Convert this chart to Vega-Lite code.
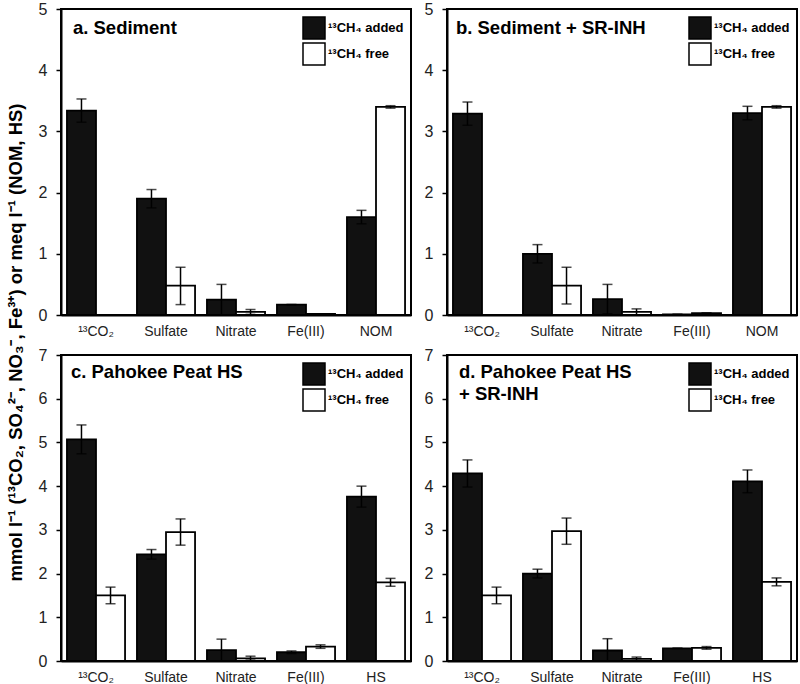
{
  "$schema": "https://vega.github.io/schema/vega-lite/v6.json",
  "padding": {"left": 6, "top": 0, "right": 3, "bottom": 2},
  "background": "white",
  "title": {"text": "mmol l⁻¹ (¹³CO₂, SO₄²⁻, NO₃⁻, Fe³⁺) or meq l⁻¹ (NOM, HS)", "orient": "left", "anchor": "middle", "fontSize": 18.5, "fontWeight": "bold", "font": "Liberation Sans", "color": "black", "offset": 12},
  "datasets": {
    "bars": [
      {"panel": "a", "cat": "¹³CO₂", "series": "¹³CH₄ added", "value": 3.34, "lo": 3.15, "hi": 3.53},
      {"panel": "a", "cat": "Sulfate", "series": "¹³CH₄ added", "value": 1.90, "lo": 1.75, "hi": 2.05},
      {"panel": "a", "cat": "Nitrate", "series": "¹³CH₄ added", "value": 0.25, "lo": 0.0, "hi": 0.50},
      {"panel": "a", "cat": "Fe(III)", "series": "¹³CH₄ added", "value": 0.17, "lo": 0.17, "hi": 0.17},
      {"panel": "a", "cat": "NOM", "series": "¹³CH₄ added", "value": 1.60, "lo": 1.49, "hi": 1.71},
      {"panel": "a", "cat": "¹³CO₂", "series": "¹³CH₄ free", "value": 0.0, "lo": 0.0, "hi": 0.0},
      {"panel": "a", "cat": "Sulfate", "series": "¹³CH₄ free", "value": 0.48, "lo": 0.17, "hi": 0.78},
      {"panel": "a", "cat": "Nitrate", "series": "¹³CH₄ free", "value": 0.05, "lo": 0.01, "hi": 0.09},
      {"panel": "a", "cat": "Fe(III)", "series": "¹³CH₄ free", "value": 0.02, "lo": 0.02, "hi": 0.02},
      {"panel": "a", "cat": "NOM", "series": "¹³CH₄ free", "value": 3.40, "lo": 3.38, "hi": 3.42},
      {"panel": "b", "cat": "¹³CO₂", "series": "¹³CH₄ added", "value": 3.29, "lo": 3.10, "hi": 3.48},
      {"panel": "b", "cat": "Sulfate", "series": "¹³CH₄ added", "value": 1.00, "lo": 0.85, "hi": 1.15},
      {"panel": "b", "cat": "Nitrate", "series": "¹³CH₄ added", "value": 0.26, "lo": 0.02, "hi": 0.50},
      {"panel": "b", "cat": "Fe(III)", "series": "¹³CH₄ added", "value": 0.01, "lo": 0.01, "hi": 0.01},
      {"panel": "b", "cat": "NOM", "series": "¹³CH₄ added", "value": 3.30, "lo": 3.19, "hi": 3.41},
      {"panel": "b", "cat": "¹³CO₂", "series": "¹³CH₄ free", "value": 0.0, "lo": 0.0, "hi": 0.0},
      {"panel": "b", "cat": "Sulfate", "series": "¹³CH₄ free", "value": 0.48, "lo": 0.18, "hi": 0.78},
      {"panel": "b", "cat": "Nitrate", "series": "¹³CH₄ free", "value": 0.05, "lo": 0.0, "hi": 0.10},
      {"panel": "b", "cat": "Fe(III)", "series": "¹³CH₄ free", "value": 0.03, "lo": 0.03, "hi": 0.03},
      {"panel": "b", "cat": "NOM", "series": "¹³CH₄ free", "value": 3.40, "lo": 3.38, "hi": 3.42},
      {"panel": "c", "cat": "¹³CO₂", "series": "¹³CH₄ added", "value": 5.07, "lo": 4.74, "hi": 5.40},
      {"panel": "c", "cat": "Sulfate", "series": "¹³CH₄ added", "value": 2.44, "lo": 2.33, "hi": 2.55},
      {"panel": "c", "cat": "Nitrate", "series": "¹³CH₄ added", "value": 0.25, "lo": 0.0, "hi": 0.50},
      {"panel": "c", "cat": "Fe(III)", "series": "¹³CH₄ added", "value": 0.20, "lo": 0.17, "hi": 0.23},
      {"panel": "c", "cat": "HS", "series": "¹³CH₄ added", "value": 3.76, "lo": 3.52, "hi": 4.00},
      {"panel": "c", "cat": "¹³CO₂", "series": "¹³CH₄ free", "value": 1.50, "lo": 1.31, "hi": 1.69},
      {"panel": "c", "cat": "Sulfate", "series": "¹³CH₄ free", "value": 2.95, "lo": 2.65, "hi": 3.25},
      {"panel": "c", "cat": "Nitrate", "series": "¹³CH₄ free", "value": 0.06, "lo": 0.02, "hi": 0.11},
      {"panel": "c", "cat": "Fe(III)", "series": "¹³CH₄ free", "value": 0.33, "lo": 0.29, "hi": 0.37},
      {"panel": "c", "cat": "HS", "series": "¹³CH₄ free", "value": 1.80, "lo": 1.71, "hi": 1.89},
      {"panel": "d", "cat": "¹³CO₂", "series": "¹³CH₄ added", "value": 4.29, "lo": 3.98, "hi": 4.60},
      {"panel": "d", "cat": "Sulfate", "series": "¹³CH₄ added", "value": 2.00, "lo": 1.90, "hi": 2.10},
      {"panel": "d", "cat": "Nitrate", "series": "¹³CH₄ added", "value": 0.24, "lo": 0.0, "hi": 0.51},
      {"panel": "d", "cat": "Fe(III)", "series": "¹³CH₄ added", "value": 0.29, "lo": 0.29, "hi": 0.29},
      {"panel": "d", "cat": "HS", "series": "¹³CH₄ added", "value": 4.11, "lo": 3.85, "hi": 4.37},
      {"panel": "d", "cat": "¹³CO₂", "series": "¹³CH₄ free", "value": 1.50, "lo": 1.31, "hi": 1.69},
      {"panel": "d", "cat": "Sulfate", "series": "¹³CH₄ free", "value": 2.97, "lo": 2.67, "hi": 3.27},
      {"panel": "d", "cat": "Nitrate", "series": "¹³CH₄ free", "value": 0.05, "lo": 0.01, "hi": 0.09},
      {"panel": "d", "cat": "Fe(III)", "series": "¹³CH₄ free", "value": 0.30, "lo": 0.27, "hi": 0.33},
      {"panel": "d", "cat": "HS", "series": "¹³CH₄ free", "value": 1.81, "lo": 1.72, "hi": 1.90}
    ],
    "labels": [
      {"panel": "a", "label": "a. Sediment"},
      {"panel": "b", "label": "b. Sediment + SR-INH"},
      {"panel": "c", "label": "c. Pahokee Peat HS"},
      {"panel": "d", "label": "d. Pahokee Peat HS\n+ SR-INH"}
    ]
  },
  "spacing": 7,
  "vconcat": [
    {
      "spacing": 11,
      "resolve": {"scale": {"fill": "independent"}, "legend": {"fill": "independent"}},
      "hconcat": [
        {
          "width": 350, "height": 306,
          "encoding": {"x": {"field": "cat", "type": "nominal", "scale": {"domain": ["¹³CO₂", "Sulfate", "Nitrate", "Fe(III)", "NOM"], "paddingInner": 0.17, "paddingOuter": 0.085}, "axis": {"title": null}}},
          "layer": [
            {"data": {"name": "bars"}, "transform": [{"filter": {"field": "panel", "equal": "a"}}],
             "mark": {"type": "bar", "stroke": "black", "strokeWidth": 1.8}, "encoding": {
              "xOffset": {"field": "series", "type": "nominal", "sort": ["¹³CH₄ added", "¹³CH₄ free"]},
              "y": {"field": "value", "type": "quantitative", "scale": {"domain": [0, 5]}, "axis": {"title": null, "values": [0, 1, 2, 3, 4, 5], "format": "d"}},
              "fill": {"field": "series", "type": "nominal", "scale": {"domain": ["¹³CH₄ added", "¹³CH₄ free"], "range": ["#111111", "#ffffff"]}, "legend": {"title": null, "orient": "top-right"}}}},
            {"data": {"name": "bars"}, "transform": [{"filter": {"field": "panel", "equal": "a"}}],
             "mark": {"type": "rule", "color": "black", "strokeWidth": 1.5}, "encoding": {"xOffset": {"field": "series", "type": "nominal", "sort": ["¹³CH₄ added", "¹³CH₄ free"]}, "y": {"field": "lo", "type": "quantitative", "axis": {"title": null}}, "y2": {"field": "hi"}}},
            {"data": {"name": "bars"}, "transform": [{"filter": {"field": "panel", "equal": "a"}}],
             "mark": {"type": "tick", "color": "black", "thickness": 1.5, "size": 10}, "encoding": {"xOffset": {"field": "series", "type": "nominal", "sort": ["¹³CH₄ added", "¹³CH₄ free"]}, "y": {"field": "hi", "type": "quantitative", "axis": {"title": null}}}},
            {"data": {"name": "bars"}, "transform": [{"filter": {"field": "panel", "equal": "a"}}],
             "mark": {"type": "tick", "color": "black", "thickness": 1.5, "size": 10}, "encoding": {"xOffset": {"field": "series", "type": "nominal", "sort": ["¹³CH₄ added", "¹³CH₄ free"]}, "y": {"field": "lo", "type": "quantitative", "axis": {"title": null}}}},
            {"data": {"name": "labels"}, "transform": [{"filter": {"field": "panel", "equal": "a"}}],
             "mark": {"type": "text", "align": "left", "baseline": "alphabetic", "fontSize": 18.5, "fontWeight": "bold", "color": "black", "dx": 6, "lineBreak": "\n", "lineHeight": 22},
             "encoding": {"x": {"datum": "¹³CO₂", "bandPosition": 0}, "y": {"datum": 4.59}, "text": {"field": "label"}}}
          ]
        },
        {
          "width": 350, "height": 306,
          "encoding": {"x": {"field": "cat", "type": "nominal", "scale": {"domain": ["¹³CO₂", "Sulfate", "Nitrate", "Fe(III)", "NOM"], "paddingInner": 0.17, "paddingOuter": 0.085}, "axis": {"title": null}}},
          "layer": [
            {"data": {"name": "bars"}, "transform": [{"filter": {"field": "panel", "equal": "b"}}],
             "mark": {"type": "bar", "stroke": "black", "strokeWidth": 1.8}, "encoding": {
              "xOffset": {"field": "series", "type": "nominal", "sort": ["¹³CH₄ added", "¹³CH₄ free"]},
              "y": {"field": "value", "type": "quantitative", "scale": {"domain": [0, 5]}, "axis": {"title": null, "values": [0, 1, 2, 3, 4, 5], "format": "d"}},
              "fill": {"field": "series", "type": "nominal", "scale": {"domain": ["¹³CH₄ added", "¹³CH₄ free"], "range": ["#111111", "#ffffff"]}, "legend": {"title": null, "orient": "top-right"}}}},
            {"data": {"name": "bars"}, "transform": [{"filter": {"field": "panel", "equal": "b"}}],
             "mark": {"type": "rule", "color": "black", "strokeWidth": 1.5}, "encoding": {"xOffset": {"field": "series", "type": "nominal", "sort": ["¹³CH₄ added", "¹³CH₄ free"]}, "y": {"field": "lo", "type": "quantitative", "axis": {"title": null}}, "y2": {"field": "hi"}}},
            {"data": {"name": "bars"}, "transform": [{"filter": {"field": "panel", "equal": "b"}}],
             "mark": {"type": "tick", "color": "black", "thickness": 1.5, "size": 10}, "encoding": {"xOffset": {"field": "series", "type": "nominal", "sort": ["¹³CH₄ added", "¹³CH₄ free"]}, "y": {"field": "hi", "type": "quantitative", "axis": {"title": null}}}},
            {"data": {"name": "bars"}, "transform": [{"filter": {"field": "panel", "equal": "b"}}],
             "mark": {"type": "tick", "color": "black", "thickness": 1.5, "size": 10}, "encoding": {"xOffset": {"field": "series", "type": "nominal", "sort": ["¹³CH₄ added", "¹³CH₄ free"]}, "y": {"field": "lo", "type": "quantitative", "axis": {"title": null}}}},
            {"data": {"name": "labels"}, "transform": [{"filter": {"field": "panel", "equal": "b"}}],
             "mark": {"type": "text", "align": "left", "baseline": "alphabetic", "fontSize": 18.5, "fontWeight": "bold", "color": "black", "dx": 3, "lineBreak": "\n", "lineHeight": 22},
             "encoding": {"x": {"datum": "¹³CO₂", "bandPosition": 0}, "y": {"datum": 4.59}, "text": {"field": "label"}}}
          ]
        }
      ]
    },
    {
      "spacing": 11,
      "resolve": {"scale": {"fill": "independent"}, "legend": {"fill": "independent"}},
      "hconcat": [
        {
          "width": 350, "height": 306,
          "encoding": {"x": {"field": "cat", "type": "nominal", "scale": {"domain": ["¹³CO₂", "Sulfate", "Nitrate", "Fe(III)", "HS"], "paddingInner": 0.17, "paddingOuter": 0.085}, "axis": {"title": null}}},
          "layer": [
            {"data": {"name": "bars"}, "transform": [{"filter": {"field": "panel", "equal": "c"}}],
             "mark": {"type": "bar", "stroke": "black", "strokeWidth": 1.8}, "encoding": {
              "xOffset": {"field": "series", "type": "nominal", "sort": ["¹³CH₄ added", "¹³CH₄ free"]},
              "y": {"field": "value", "type": "quantitative", "scale": {"domain": [0, 7]}, "axis": {"title": null, "values": [0, 1, 2, 3, 4, 5, 6, 7], "format": "d"}},
              "fill": {"field": "series", "type": "nominal", "scale": {"domain": ["¹³CH₄ added", "¹³CH₄ free"], "range": ["#111111", "#ffffff"]}, "legend": {"title": null, "orient": "top-right"}}}},
            {"data": {"name": "bars"}, "transform": [{"filter": {"field": "panel", "equal": "c"}}],
             "mark": {"type": "rule", "color": "black", "strokeWidth": 1.5}, "encoding": {"xOffset": {"field": "series", "type": "nominal", "sort": ["¹³CH₄ added", "¹³CH₄ free"]}, "y": {"field": "lo", "type": "quantitative", "axis": {"title": null}}, "y2": {"field": "hi"}}},
            {"data": {"name": "bars"}, "transform": [{"filter": {"field": "panel", "equal": "c"}}],
             "mark": {"type": "tick", "color": "black", "thickness": 1.5, "size": 10}, "encoding": {"xOffset": {"field": "series", "type": "nominal", "sort": ["¹³CH₄ added", "¹³CH₄ free"]}, "y": {"field": "hi", "type": "quantitative", "axis": {"title": null}}}},
            {"data": {"name": "bars"}, "transform": [{"filter": {"field": "panel", "equal": "c"}}],
             "mark": {"type": "tick", "color": "black", "thickness": 1.5, "size": 10}, "encoding": {"xOffset": {"field": "series", "type": "nominal", "sort": ["¹³CH₄ added", "¹³CH₄ free"]}, "y": {"field": "lo", "type": "quantitative", "axis": {"title": null}}}},
            {"data": {"name": "labels"}, "transform": [{"filter": {"field": "panel", "equal": "c"}}],
             "mark": {"type": "text", "align": "left", "baseline": "alphabetic", "fontSize": 18.5, "fontWeight": "bold", "color": "black", "dx": 4, "lineBreak": "\n", "lineHeight": 22},
             "encoding": {"x": {"datum": "¹³CO₂", "bandPosition": 0}, "y": {"datum": 6.47}, "text": {"field": "label"}}}
          ]
        },
        {
          "width": 350, "height": 306,
          "encoding": {"x": {"field": "cat", "type": "nominal", "scale": {"domain": ["¹³CO₂", "Sulfate", "Nitrate", "Fe(III)", "HS"], "paddingInner": 0.17, "paddingOuter": 0.085}, "axis": {"title": null}}},
          "layer": [
            {"data": {"name": "bars"}, "transform": [{"filter": {"field": "panel", "equal": "d"}}],
             "mark": {"type": "bar", "stroke": "black", "strokeWidth": 1.8}, "encoding": {
              "xOffset": {"field": "series", "type": "nominal", "sort": ["¹³CH₄ added", "¹³CH₄ free"]},
              "y": {"field": "value", "type": "quantitative", "scale": {"domain": [0, 7]}, "axis": {"title": null, "values": [0, 1, 2, 3, 4, 5, 6, 7], "format": "d"}},
              "fill": {"field": "series", "type": "nominal", "scale": {"domain": ["¹³CH₄ added", "¹³CH₄ free"], "range": ["#111111", "#ffffff"]}, "legend": {"title": null, "orient": "top-right"}}}},
            {"data": {"name": "bars"}, "transform": [{"filter": {"field": "panel", "equal": "d"}}],
             "mark": {"type": "rule", "color": "black", "strokeWidth": 1.5}, "encoding": {"xOffset": {"field": "series", "type": "nominal", "sort": ["¹³CH₄ added", "¹³CH₄ free"]}, "y": {"field": "lo", "type": "quantitative", "axis": {"title": null}}, "y2": {"field": "hi"}}},
            {"data": {"name": "bars"}, "transform": [{"filter": {"field": "panel", "equal": "d"}}],
             "mark": {"type": "tick", "color": "black", "thickness": 1.5, "size": 10}, "encoding": {"xOffset": {"field": "series", "type": "nominal", "sort": ["¹³CH₄ added", "¹³CH₄ free"]}, "y": {"field": "hi", "type": "quantitative", "axis": {"title": null}}}},
            {"data": {"name": "bars"}, "transform": [{"filter": {"field": "panel", "equal": "d"}}],
             "mark": {"type": "tick", "color": "black", "thickness": 1.5, "size": 10}, "encoding": {"xOffset": {"field": "series", "type": "nominal", "sort": ["¹³CH₄ added", "¹³CH₄ free"]}, "y": {"field": "lo", "type": "quantitative", "axis": {"title": null}}}},
            {"data": {"name": "labels"}, "transform": [{"filter": {"field": "panel", "equal": "d"}}],
             "mark": {"type": "text", "align": "left", "baseline": "alphabetic", "fontSize": 18.5, "fontWeight": "bold", "color": "black", "dx": 6, "lineBreak": "\n", "lineHeight": 22},
             "encoding": {"x": {"datum": "¹³CO₂", "bandPosition": 0}, "y": {"datum": 6.47}, "text": {"field": "label"}}}
          ]
        }
      ]
    }
  ],
  "resolve": {"scale": {"fill": "independent"}, "legend": {"fill": "independent"}},
  "config": {
    "font": "Liberation Sans",
    "view": {"stroke": "black", "strokeWidth": 2},
    "axis": {"grid": false, "domainColor": "black", "domainWidth": 2, "labelColor": "#222", "labelFont": "Liberation Sans"},
    "axisX": {"ticks": false, "labelAngle": 0, "labelFontSize": 14, "labelPadding": 9},
    "axisY": {"tickSize": 5, "tickColor": "black", "tickWidth": 1.5, "labelFontSize": 16, "labelPadding": 9},
    "legend": {"symbolType": "square", "symbolSize": 484, "symbolStrokeColor": "black", "symbolStrokeWidth": 1.5, "labelFontSize": 13, "labelFontWeight": "bold", "labelColor": "black", "labelFont": "Liberation Sans", "offset": 7, "padding": 0, "rowPadding": -2, "labelOffset": 2}
  }
}
